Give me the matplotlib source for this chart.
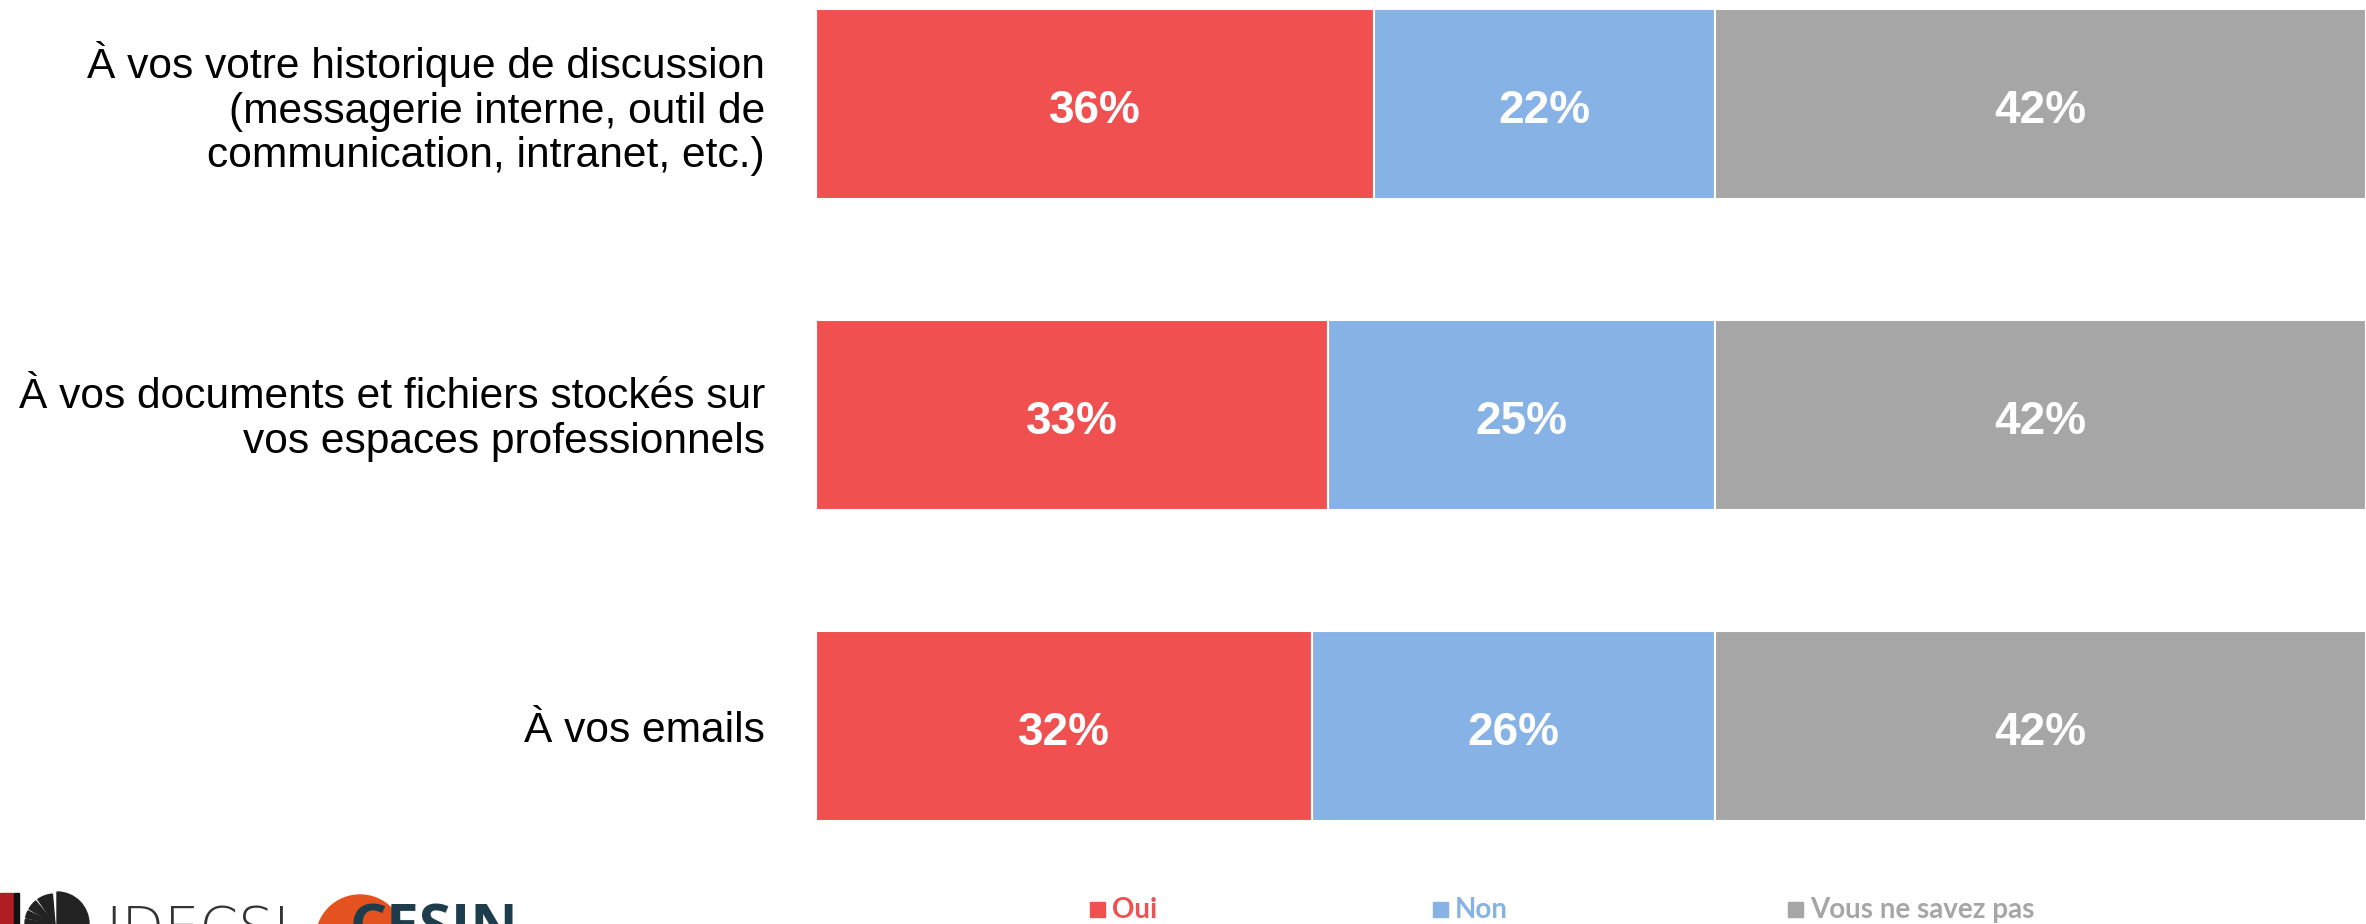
import numpy as np
import matplotlib
matplotlib.use("Agg")
import matplotlib.pyplot as plt
from matplotlib.patches import Rectangle, Circle, Wedge

# survey answers, one row per question (top to bottom)
questions = [
    "À vos votre historique de discussion\n(messagerie interne, outil de\ncommunication, intranet, etc.)",
    "À vos documents et fichiers stockés sur\nvos espaces professionnels",
    "À vos emails",
]
oui = [36, 33, 32]
non = [22, 25, 26]
nsp = [42, 42, 42]
series_names = ["Oui", "Non", "Vous ne savez pas"]
colors = ["#F05050", "#86B2E6", "#A6A6A6"]

W, H = 2366, 924
fig = plt.figure(figsize=(W / 100, H / 100), dpi=100)
ax = fig.add_axes([816 / W, 0, 1 - 816 / W, 1])

y = np.arange(len(questions))
left = np.zeros(len(questions))
for vals, col in zip([oui, non, nsp], colors):
    vals = np.array(vals, dtype=float)
    bars = ax.barh(y, vals, left=left, height=0.61, color=col,
                   edgecolor="white", linewidth=1.5)
    for yi, l, v in zip(y, left, vals):
        ax.text(l + v / 2, yi + 0.008, "%d%%" % v, ha="center",
                va="center_baseline", color="white", fontsize=33,
                fontweight="bold", family="Liberation Sans")
    left += vals

ax.set_xlim(0, 100)
ax.set_ylim(2 + (H - 726) / 311, -104 / 311)
ax.axis("off")

for yi, q in zip(y, questions):
    ax.text(-51 / 15.5, yi + 0.015, q, ha="right", va="center", fontsize=30.6,
            family="Liberation Sans", color="black", linespacing=1.14)

# legend along the bottom
leg_x = [1090, 1433, 1788]
for lx, name, col in zip(leg_x, series_names, colors):
    fig.patches.append(Rectangle((lx / W, (H - 917) / H), 15 / W, 15 / H,
                                 transform=fig.transFigure, color=col))
    fig.text((lx + 22) / W, (H - 910) / H, name, color=col, fontsize=20,
             fontweight="bold", family="Lato", va="center", ha="left")

# logos, cut off at the bottom edge
fig.patches.append(Rectangle((0, 0), 13 / W, 31 / H, transform=fig.transFigure,
                             color="#B01E23"))
fig.patches.append(Rectangle((14 / W, 0), 5 / W, 31 / H, transform=fig.transFigure,
                             color="#111111"))
fig.patches.append(Wedge((57, H - 924), 32, 0, 90, transform=None,
                         color="#222222"))
for a0, a1 in [(95, 125), (130, 150), (154, 168), (171, 180)]:
    fig.patches.append(Wedge((55, H - 924), 30, a0, a1, transform=None,
                             color="#222222"))
fig.text(105 / W, -22 / H, "IDECSI", fontsize=40, color="#333333",
         family="DejaVu Sans", fontweight="ultralight", va="baseline")
fig.patches.append(Circle((360, -15), 44, transform=None, color="#E4531F"))
fig.text(350 / W, -22 / H, "CESIN", fontsize=42, color="#1D3C4C",
         family="Open Sans", fontweight="bold", va="baseline")

fig.savefig("out.png", dpi=100)
